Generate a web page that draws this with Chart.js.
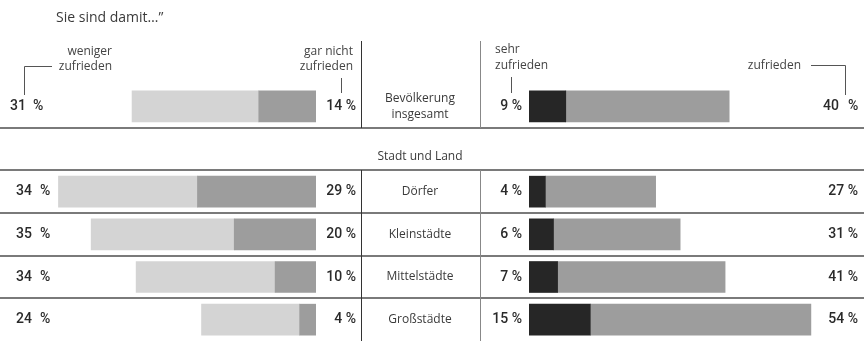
<!DOCTYPE html>
<html>
<head>
<meta charset="utf-8">
<script src="https://cdn.jsdelivr.net/npm/chart.js@4/dist/chart.umd.min.js"></script>
<style>
  html, body { margin: 0; padding: 0; background: #fff; }
  #wrap { position: relative; width: 864px; height: 341px; overflow: hidden; }
  #left { position: absolute; left: 0; top: 0; }
  #right { position: absolute; left: 480px; top: 0; }
</style>
</head>
<body>
<div id="wrap">
  <canvas id="left" width="480" height="341"></canvas>
  <canvas id="right" width="384" height="341"></canvas>
</div>
<script>
// Zeilen: Gesamt, Zwischenüberschrift (leer), Ortsgrößen
const rows = [["Bevölkerung", "insgesamt"], [], ["Dörfer"], ["Kleinstädte"], ["Mittelstädte"], ["Großstädte"]];
const groupTitle = "Stadt und Land";

const garNicht  = [14, null, 29, 20, 10, 4];
const weniger   = [31, null, 34, 35, 34, 24];
const sehr      = [9,  null, 4,  6,  7,  15];
const zufrieden = [40, null, 27, 31, 41, 54];

const FONT = "'Open Sans', 'Noto Sans', sans-serif";
const LINE = "#7a7a7a";

function rowBounds(y, i) {
  return (y.getPixelForValue(i) + y.getPixelForValue(i + 1)) / 2;
}

function hLines(ctx, chart) {
  const y = chart.scales.y;
  ctx.strokeStyle = LINE;
  ctx.lineWidth = 2;
  for (let i = 0; i < rows.length - 1; i++) {
    const py = Math.round(rowBounds(y, i));
    ctx.beginPath();
    ctx.moveTo(0, py);
    ctx.lineTo(chart.width, py);
    ctx.stroke();
  }
}

function vLine(ctx, chart, x, color) {
  const y = chart.scales.y;
  ctx.strokeStyle = color;
  ctx.lineWidth = 1;
  ctx.beginPath();
  ctx.moveTo(x, 41);
  ctx.lineTo(x, Math.round(rowBounds(y, 0)));
  ctx.moveTo(x, Math.round(rowBounds(y, 1)));
  ctx.lineTo(x, chart.height);
  ctx.stroke();
}

function txt(ctx, s, x, y, align, font, color) {
  ctx.font = font;
  ctx.fillStyle = color || "#3a3a3a";
  ctx.textAlign = align;
  ctx.textBaseline = "middle";
  ctx.fillText(s, x, y);
}

function bracket(ctx, pts) {
  ctx.strokeStyle = "#555";
  ctx.lineWidth = 1;
  ctx.beginPath();
  ctx.moveTo(pts[0][0], pts[0][1]);
  pts.slice(1).forEach(p => ctx.lineTo(p[0], p[1]));
  ctx.stroke();
}

const labelFont = "400 12px " + FONT;
const titleFont = "400 14px " + FONT;
const numFont = "500 14px Roboto, " + FONT;
const NUM = "#2a2a2a";

const leftDecor = {
  id: "leftDecor",
  afterDraw(chart) {
    const ctx = chart.ctx;
    const y = chart.scales.y;
    ctx.save();
    hLines(ctx, chart);
    vLine(ctx, chart, 361.5, "#333");

    // Mittelspalte
    rows.forEach((r, i) => {
      const cy = y.getPixelForValue(i);
      if (r.length === 2) {
        txt(ctx, r[0], 420, cy - 8, "center", labelFont);
        txt(ctx, r[1], 420, cy + 8, "center", labelFont);
      } else if (r.length === 1) {
        txt(ctx, r[0], 420, cy, "center", labelFont);
      }
    });
    txt(ctx, groupTitle, 420, Math.round(rowBounds(y, 1)) - 13, "center", labelFont);

    // Prozentwerte links
    rows.forEach((r, i) => {
      if (garNicht[i] == null) return;
      const cy = y.getPixelForValue(i);
      const top = i === 0;
      txt(ctx, String(weniger[i]), top ? 10 : 16, cy, "left", numFont, NUM);
      txt(ctx, "%", top ? 33 : 40, cy, "left", numFont, NUM);
      txt(ctx, garNicht[i] + " %", 356, cy, "right", numFont, NUM);
    });

    txt(ctx, "Sie sind damit\u2026\u201d", 56, 18, "left", titleFont);
    txt(ctx, "weniger", 112, 52, "right", labelFont, "#444");
    txt(ctx, "zufrieden", 112, 67, "right", labelFont, "#444");
    bracket(ctx, [[52, 66.5], [24.5, 66.5], [24.5, 95]]);
    txt(ctx, "gar nicht", 353, 52, "right", labelFont, "#444");
    txt(ctx, "zufrieden", 353, 67, "right", labelFont, "#444");
    bracket(ctx, [[341.5, 78], [341.5, 93]]);
    ctx.restore();
  }
};

const rightDecor = {
  id: "rightDecor",
  afterDraw(chart) {
    const ctx = chart.ctx;
    const y = chart.scales.y;
    ctx.save();
    hLines(ctx, chart);
    vLine(ctx, chart, 0.5, "#888");

    rows.forEach((r, i) => {
      if (sehr[i] == null) return;
      const cy = y.getPixelForValue(i);
      txt(ctx, sehr[i] + " %", 42, cy, "right", numFont, NUM);
      if (i === 0) {
        txt(ctx, String(zufrieden[i]), 343, cy, "left", numFont, NUM);
        txt(ctx, "%", 368, cy, "left", numFont, NUM);
      } else {
        txt(ctx, zufrieden[i] + " %", 378, cy, "right", numFont, NUM);
      }
    });

    txt(ctx, "sehr", 15, 50, "left", labelFont, "#444");
    txt(ctx, "zufrieden", 15, 66, "left", labelFont, "#444");
    bracket(ctx, [[31.5, 77], [31.5, 93]]);
    txt(ctx, "zufrieden", 321, 66, "right", labelFont, "#444");
    bracket(ctx, [[331, 65.5], [365.5, 65.5], [365.5, 95]]);
    ctx.restore();
  }
};

function makeChart(id, sets, reverse, max, pad, plugin) {
  return new Chart(document.getElementById(id), {
    type: "bar",
    data: {
      labels: rows.map(r => r.join(" ")),
      datasets: sets.map(s => ({
        label: s.label,
        data: s.data,
        backgroundColor: s.color,
        borderWidth: 0,
        barThickness: 31
      }))
    },
    options: {
      indexAxis: "y",
      responsive: false,
      animation: false,
      devicePixelRatio: 1,
      layout: { padding: pad },
      plugins: { legend: { display: false }, tooltip: { enabled: false } },
      scales: {
        x: { display: false, stacked: true, min: 0, max: max, reverse: reverse },
        y: { display: false, stacked: true }
      }
    },
    plugins: [plugin]
  });
}

makeChart("left", [
  { label: "gar nicht zufrieden", data: garNicht, color: "#9d9d9d" },
  { label: "weniger zufrieden", data: weniger, color: "#d4d4d4" }
], true, 77.3, { left: 0, right: 164, top: 85, bottom: 0 }, leftDecor);

makeChart("right", [
  { label: "sehr zufrieden", data: sehr, color: "#262626" },
  { label: "zufrieden", data: zufrieden, color: "#9d9d9d" }
], false, 82, { left: 49, right: 0, top: 85, bottom: 0 }, rightDecor);
</script>
</body>
</html>
